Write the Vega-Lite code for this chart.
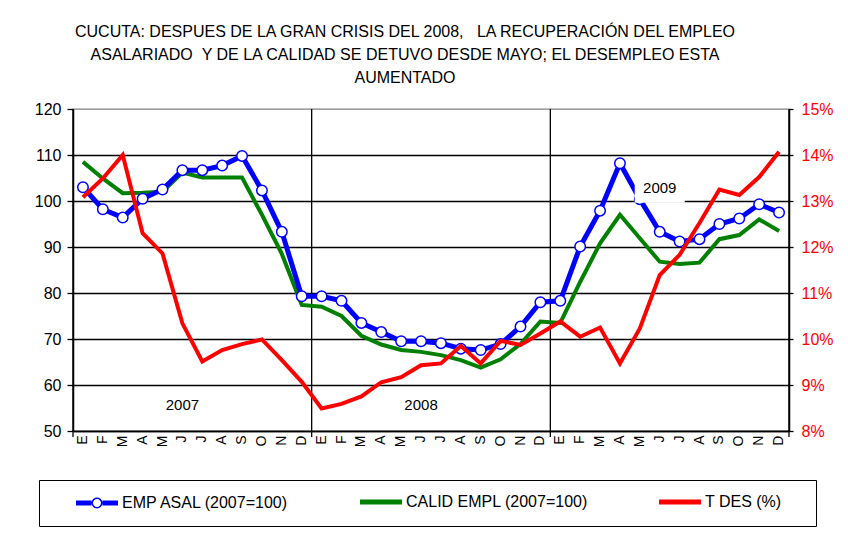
{
  "$schema": "https://vega.github.io/schema/vega-lite/v6.json",
  "width": 716,
  "height": 322,
  "autosize": "none",
  "padding": {"left": 73, "top": 109, "right": 59, "bottom": 116},
  "background": "white",
  "config": {
    "font": "Liberation Sans",
    "view": {"stroke": "#808080", "strokeWidth": 1.3}
  },
  "title": {
    "text": [
      "CUCUTA: DESPUES DE LA GRAN CRISIS DEL 2008,\u00a0\u00a0\u00a0LA RECUPERACIÓN DEL EMPLEO",
      "ASALARIADO\u00a0\u00a0Y DE LA CALIDAD SE DETUVO DESDE MAYO; EL DESEMPLEO ESTA",
      "AUMENTADO"
    ],
    "anchor": "middle",
    "dx": -26,
    "fontSize": 16,
    "fontWeight": "normal",
    "font": "Liberation Sans",
    "color": "black",
    "lineHeight": 23,
    "offset": 15
  },
  "data": {
    "values": [
      {"t": "2007-01", "emp": 103.0, "cal": 108.5, "des": 13.08},
      {"t": "2007-02", "emp": 98.2, "cal": 104.9, "des": 13.49},
      {"t": "2007-03", "emp": 96.4, "cal": 101.7, "des": 14.0},
      {"t": "2007-04", "emp": 100.5, "cal": 101.8, "des": 12.3},
      {"t": "2007-05", "emp": 102.5, "cal": 102.0, "des": 11.86},
      {"t": "2007-06", "emp": 106.7, "cal": 106.2, "des": 10.34},
      {"t": "2007-07", "emp": 106.7, "cal": 105.1, "des": 9.51},
      {"t": "2007-08", "emp": 107.7, "cal": 105.1, "des": 9.76},
      {"t": "2007-09", "emp": 109.8, "cal": 105.1, "des": 9.89},
      {"t": "2007-10", "emp": 102.3, "cal": 97.0, "des": 9.99},
      {"t": "2007-11", "emp": 93.3, "cal": 88.5, "des": 9.54},
      {"t": "2007-12", "emp": 79.3, "cal": 77.4, "des": 9.07},
      {"t": "2008-01", "emp": 79.3, "cal": 77.0, "des": 8.49},
      {"t": "2008-02", "emp": 78.3, "cal": 75.0, "des": 8.59},
      {"t": "2008-03", "emp": 73.5, "cal": 70.7, "des": 8.75},
      {"t": "2008-04", "emp": 71.5, "cal": 68.8, "des": 9.06},
      {"t": "2008-05", "emp": 69.5, "cal": 67.6, "des": 9.17},
      {"t": "2008-06", "emp": 69.5, "cal": 67.2, "des": 9.43},
      {"t": "2008-07", "emp": 69.1, "cal": 66.5, "des": 9.47},
      {"t": "2008-08", "emp": 67.9, "cal": 65.4, "des": 9.85},
      {"t": "2008-09", "emp": 67.6, "cal": 63.8, "des": 9.47},
      {"t": "2008-10", "emp": 68.9, "cal": 65.6, "des": 9.96},
      {"t": "2008-11", "emp": 72.7, "cal": 68.9, "des": 9.87},
      {"t": "2008-12", "emp": 78.0, "cal": 73.8, "des": 10.12},
      {"t": "2009-01", "emp": 78.3, "cal": 73.5, "des": 10.38},
      {"t": "2009-02", "emp": 90.1, "cal": 82.4, "des": 10.05},
      {"t": "2009-03", "emp": 97.9, "cal": 90.8, "des": 10.25},
      {"t": "2009-04", "emp": 108.2, "cal": 97.0, "des": 9.47},
      {"t": "2009-05", "emp": 100.4, "cal": 91.9, "des": 10.23},
      {"t": "2009-06", "emp": 93.3, "cal": 86.8, "des": 11.39},
      {"t": "2009-07", "emp": 91.2, "cal": 86.3, "des": 11.83},
      {"t": "2009-08", "emp": 91.7, "cal": 86.6, "des": 12.52},
      {"t": "2009-09", "emp": 95.0, "cal": 91.7, "des": 13.25},
      {"t": "2009-10", "emp": 96.2, "cal": 92.6, "des": 13.13},
      {"t": "2009-11", "emp": 99.3, "cal": 96.0, "des": 13.52},
      {"t": "2009-12", "emp": 97.5, "cal": 93.5, "des": 14.07}
    ]
  },
  "encoding": {
    "x": {
      "field": "t",
      "type": "ordinal",
      "scale": {"type": "band", "paddingInner": 0, "paddingOuter": 0},
      "axis": {
        "title": null,
        "labelExpr": "['E','F','M','A','M','J','J','A','S','O','N','D'][toNumber(slice(datum.value,5,7))-1]",
        "labelAngle": 270,
        "labelFontSize": 14,
        "labelColor": "black",
        "labelPadding": 4,
        "ticks": false,
        "grid": false,
        "domainColor": "black",
        "domainWidth": 1.5
      }
    }
  },
  "layer": [
    {
      "layer": [
        {
          "data": {"values": [{"t": "2007-01"}, {"t": "2008-01"}, {"t": "2009-01"}]},
          "mark": {"type": "rule", "color": "black", "strokeWidth": 1.3},
          "encoding": {
            "x": {"field": "t", "type": "ordinal", "bandPosition": 0},
            "y": {"datum": 48.7},
            "y2": {"datum": 120}
          }
        },
        {
          "data": {"values": [{"t": "2009-12"}]},
          "mark": {"type": "rule", "color": "black", "strokeWidth": 1.3},
          "encoding": {
            "x": {"field": "t", "type": "ordinal", "bandPosition": 1},
            "y": {"datum": 48.7},
            "y2": {"datum": 120}
          }
        },
        {
          "mark": {"type": "line", "strokeWidth": 4},
          "encoding": {
            "y": {"field": "cal", "type": "quantitative"},
            "color": {"datum": "CALID EMPL (2007=100)"}
          }
        },
        {
          "mark": {"type": "line", "strokeWidth": 5},
          "encoding": {
            "y": {
              "field": "emp",
              "type": "quantitative",
              "scale": {"domain": [50, 120], "nice": false, "zero": false},
              "axis": {
                "title": null,
                "values": [50, 60, 70, 80, 90, 100, 110, 120],
                "labelFontSize": 16,
                "labelColor": "black",
                "labelPadding": 6,
                "tickSize": 6,
                "tickColor": "black",
                "tickWidth": 1.3,
                "domainColor": "black",
                "domainWidth": 1.5,
                "grid": true,
                "gridColor": {"condition": {"test": "datum.value < 120", "value": "black"}, "value": "transparent"},
                "gridWidth": 1.3
              }
            },
            "color": {
              "datum": "EMP ASAL (2007=100)",
              "scale": {
                "domain": ["EMP ASAL (2007=100)", "CALID EMPL (2007=100)", "T DES (%)"],
                "range": ["#0000ff", "#008000", "#ff0000"]
              },
              "legend": {
                "title": ".",
                "titleOrient": "right",
                "titleColor": "white",
                "titleFontSize": 2,
                "titlePadding": 20,
                "orient": "none",
                "legendX": -34,
                "legendY": 371,
                "direction": "horizontal",
                "columns": 3,
                "strokeColor": "black",
                "fillColor": "white",
                "padding": 14,
                "symbolOffset": 36,
                "symbolType": "stroke",
                "symbolSize": 1764,
                "symbolStrokeWidth": 5,
                "labelFontSize": 16,
                "labelFont": "Liberation Sans",
                "labelColor": "black",
                "labelOffset": 17,
                "columnPadding": 48,
                "labelLimit": 300,
                "encode": {
                  "symbols": {
                    "update": {
                      "shape": {"signal": "datum.value == 'EMP ASAL (2007=100)' ? 'M-1,-0.12H-0.26V0.12H-1ZM0.26,-0.12H1V0.12H0.26ZM0.26,0A0.26,0.26,0,1,1,-0.26,0A0.26,0.26,0,1,1,0.26,0ZM0.19,0A0.19,0.19,0,1,0,-0.19,0A0.19,0.19,0,1,0,0.19,0Z' : 'stroke'"},
                      "fill": {"signal": "datum.value == 'EMP ASAL (2007=100)' ? '#0000ff' : 'transparent'"},
                      "strokeWidth": {"signal": "datum.value == 'EMP ASAL (2007=100)' ? 0 : 5"}
                    }
                  }
                }
              }
            }
          }
        },
        {
          "mark": {"type": "point", "filled": true, "fill": "white", "stroke": "#0000ff", "strokeWidth": 1.5, "size": 110, "opacity": 1},
          "encoding": {"y": {"field": "emp", "type": "quantitative"}}
        },
        {
          "data": {"values": [
            {"t": "2009-06", "label": "2009"}
          ]},
          "mark": {"type": "bar", "color": "white", "width": 50},
          "encoding": {
            "y": {"datum": 99.6},
            "y2": {"datum": 105.0}
          }
        },
        {
          "data": {"values": [
            {"t": "2007-06", "y": 55.7, "label": "2007"},
            {"t": "2008-06", "y": 55.7, "label": "2008"},
            {"t": "2009-06", "y": 102.8, "label": "2009"}
          ]},
          "mark": {"type": "text", "fontSize": 15, "font": "Liberation Sans", "color": "black", "align": "center", "baseline": "middle"},
          "encoding": {
            "y": {"field": "y", "type": "quantitative"},
            "text": {"field": "label"}
          }
        }
      ]
    },
    {
      "mark": {"type": "line", "strokeWidth": 4},
      "encoding": {
        "y": {
          "field": "des",
          "type": "quantitative",
          "scale": {"domain": [8, 15], "nice": false, "zero": false},
          "axis": {
            "title": null,
            "orient": "right",
            "values": [8, 9, 10, 11, 12, 13, 14, 15],
            "labelExpr": "datum.value + '%'",
            "labelFontSize": 16,
            "labelColor": "#ff0000",
            "labelPadding": 8,
            "tickSize": 4,
            "tickColor": "black",
            "tickWidth": 1.3,
            "domainColor": "black",
            "domainWidth": 1.5,
            "grid": false
          }
        },
        "color": {"datum": "T DES (%)"}
      }
    }
  ],
  "resolve": {"scale": {"y": "independent"}}
}
